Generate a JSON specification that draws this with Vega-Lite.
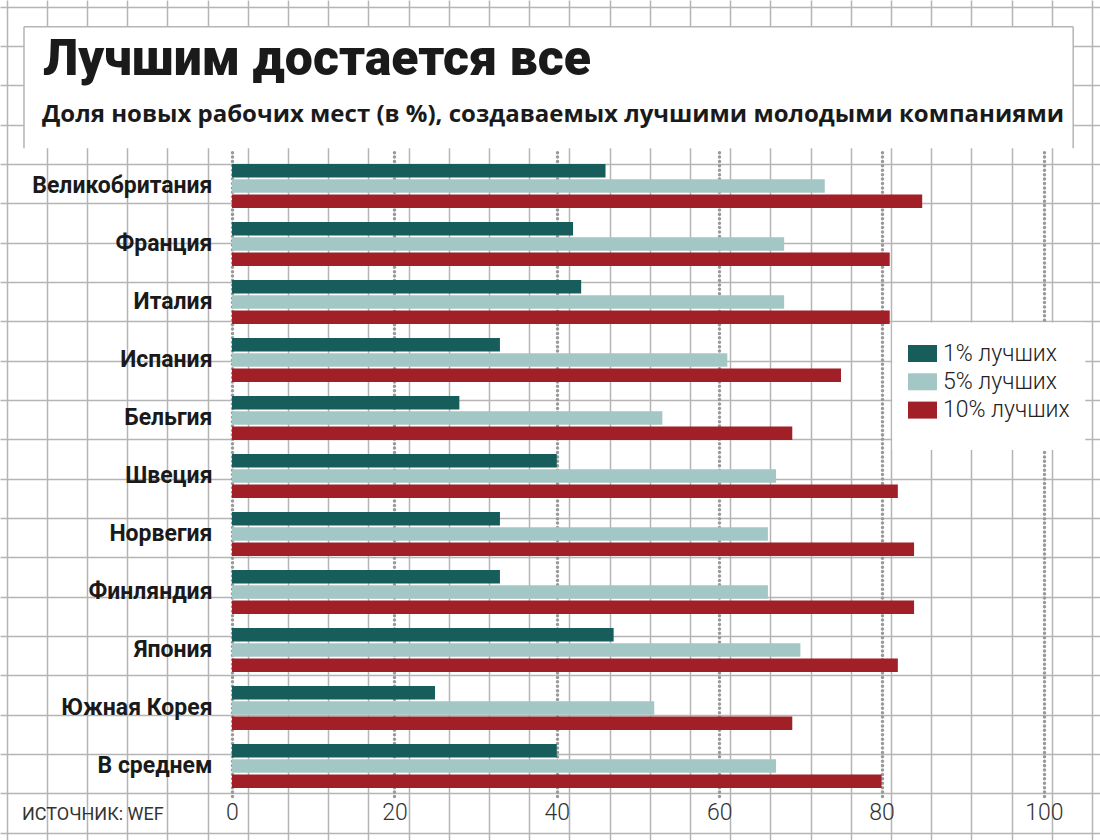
{
  "$schema": "https://vega.github.io/schema/vega-lite/v6.json",
  "width": 1100,
  "height": 840,
  "autosize": {"type": "none"},
  "padding": 0,
  "background": "white",
  "config": {"view": {"stroke": null}, "font": "Roboto"},
  "resolve": {
    "scale": {"x": "independent", "y": "independent"},
    "axis": {"x": "independent", "y": "independent"}
  },
  "layer": [
    {
      "data": {"values": [{}]},
      "mark": {"type": "rect", "fill": "white", "opacity": 0},
      "encoding": {
        "x": {
          "datum": 1, "type": "quantitative",
          "scale": {"domain": [-0.1667, 27.197], "nice": false, "zero": false},
          "axis": {"orient": "top", "values": [0,1,2,3,4,5,6,7,8,9,10,11,12,13,14,15,16,17,18,19,20,21,22,23,24,25,26,27],
            "grid": true, "gridColor": "#b5b5b5", "gridWidth": 1.5, "labels": false, "ticks": false, "domain": false, "title": null}
        },
        "x2": {"datum": 2},
        "y": {
          "datum": 1, "type": "quantitative",
          "scale": {"domain": [-0.1704, 21.187], "reverse": true, "nice": false, "zero": false},
          "axis": {"orient": "right", "values": [0,1,2,3,4,5,6,7,8,9,10,11,12,13,14,15,16,17,18,19,20,21],
            "grid": true, "gridColor": "#b5b5b5", "gridWidth": 1.5, "labels": false, "ticks": false, "domain": false, "title": null}
        },
        "y2": {"datum": 2}
      }
    },
    {
      "data": {"values": [{}]},
      "layer": [
        {
          "mark": {"type": "rect", "fill": "white"},
          "encoding": {
            "x": {"datum": 0.43, "type": "quantitative", "scale": {"domain": [-0.1667, 27.197], "nice": false, "zero": false}, "axis": null},
            "x2": {"datum": 26.53},
            "y": {"datum": 0.509, "type": "quantitative", "scale": {"domain": [-0.1704, 21.187], "reverse": true, "nice": false, "zero": false}, "axis": null},
            "y2": {"datum": 3.6}
          }
        },
        {
          "mark": {"type": "rect", "fill": "white"},
          "encoding": {
            "x": {"datum": 22.03, "type": "quantitative", "scale": {"domain": [-0.1667, 27.197], "nice": false, "zero": false}, "axis": null},
            "x2": {"datum": 26.83},
            "y": {"datum": 8.03, "type": "quantitative", "scale": {"domain": [-0.1704, 21.187], "reverse": true, "nice": false, "zero": false}, "axis": null},
            "y2": {"datum": 11.27}
          }
        },
        {
          "mark": {"type": "rule", "color": "#b5b5b5", "strokeWidth": 1.5},
          "encoding": {
            "x": {"datum": 0.43, "type": "quantitative", "scale": {"domain": [-0.1667, 27.197], "nice": false, "zero": false}, "axis": null},
            "y": {"datum": 0.509, "type": "quantitative", "scale": {"domain": [-0.1704, 21.187], "reverse": true, "nice": false, "zero": false}, "axis": null},
            "y2": {"datum": 3.6}
          }
        },
        {
          "mark": {"type": "rule", "color": "#b5b5b5", "strokeWidth": 1.5},
          "encoding": {
            "x": {"datum": 26.53, "type": "quantitative", "scale": {"domain": [-0.1667, 27.197], "nice": false, "zero": false}, "axis": null},
            "y": {"datum": 0.509, "type": "quantitative", "scale": {"domain": [-0.1704, 21.187], "reverse": true, "nice": false, "zero": false}, "axis": null},
            "y2": {"datum": 3.6}
          }
        },
        {
          "mark": {"type": "rule", "color": "#b5b5b5", "strokeWidth": 1.5},
          "encoding": {
            "x": {"datum": 0.43, "type": "quantitative", "scale": {"domain": [-0.1667, 27.197], "nice": false, "zero": false}, "axis": null},
            "x2": {"datum": 26.53},
            "y": {"datum": 0.509, "type": "quantitative", "scale": {"domain": [-0.1704, 21.187], "reverse": true, "nice": false, "zero": false}, "axis": null}
          }
        },
        {
          "mark": {"type": "text", "align": "left", "baseline": "alphabetic", "font": "Roboto", "fontWeight": 900, "fontSize": 50, "color": "#1a1a1a"},
          "encoding": {
            "x": {"datum": 0.9, "type": "quantitative", "scale": {"domain": [-0.1667, 27.197], "nice": false, "zero": false}, "axis": null},
            "y": {"datum": 1.737, "type": "quantitative", "scale": {"domain": [-0.1704, 21.187], "reverse": true, "nice": false, "zero": false}, "axis": null},
            "text": {"value": "Лучшим достается все"}
          }
        },
        {
          "mark": {"type": "text", "align": "left", "baseline": "alphabetic", "font": "Open Sans", "fontWeight": "bold", "fontSize": 24, "color": "#1a1a1a"},
          "encoding": {
            "x": {"datum": 0.878, "type": "quantitative", "scale": {"domain": [-0.1667, 27.197], "nice": false, "zero": false}, "axis": null},
            "y": {"datum": 2.924, "type": "quantitative", "scale": {"domain": [-0.1704, 21.187], "reverse": true, "nice": false, "zero": false}, "axis": null},
            "text": {"value": "Доля новых рабочих мест (в %), создаваемых лучшими молодыми компаниями"}
          }
        },
        {
          "mark": {"type": "text", "align": "left", "baseline": "alphabetic", "font": "Roboto", "fontSize": 18, "color": "#333333"},
          "encoding": {
            "x": {"datum": 0.381, "type": "quantitative", "scale": {"domain": [-0.1667, 27.197], "nice": false, "zero": false}, "axis": null},
            "y": {"datum": 20.68, "type": "quantitative", "scale": {"domain": [-0.1704, 21.187], "reverse": true, "nice": false, "zero": false}, "axis": null},
            "text": {"value": "ИСТОЧНИК: WEF"}
          }
        }
      ]
    },
    {
      "data": {
        "values": [
          {"country": "Великобритания", "series": "1% лучших", "value": 46},
          {"country": "Великобритания", "series": "5% лучших", "value": 73},
          {"country": "Великобритания", "series": "10% лучших", "value": 85},
          {"country": "Франция", "series": "1% лучших", "value": 42},
          {"country": "Франция", "series": "5% лучших", "value": 68},
          {"country": "Франция", "series": "10% лучших", "value": 81},
          {"country": "Италия", "series": "1% лучших", "value": 43},
          {"country": "Италия", "series": "5% лучших", "value": 68},
          {"country": "Италия", "series": "10% лучших", "value": 81},
          {"country": "Испания", "series": "1% лучших", "value": 33},
          {"country": "Испания", "series": "5% лучших", "value": 61},
          {"country": "Испания", "series": "10% лучших", "value": 75},
          {"country": "Бельгия", "series": "1% лучших", "value": 28},
          {"country": "Бельгия", "series": "5% лучших", "value": 53},
          {"country": "Бельгия", "series": "10% лучших", "value": 69},
          {"country": "Швеция", "series": "1% лучших", "value": 40},
          {"country": "Швеция", "series": "5% лучших", "value": 67},
          {"country": "Швеция", "series": "10% лучших", "value": 82},
          {"country": "Норвегия", "series": "1% лучших", "value": 33},
          {"country": "Норвегия", "series": "5% лучших", "value": 66},
          {"country": "Норвегия", "series": "10% лучших", "value": 84},
          {"country": "Финляндия", "series": "1% лучших", "value": 33},
          {"country": "Финляндия", "series": "5% лучших", "value": 66},
          {"country": "Финляндия", "series": "10% лучших", "value": 84},
          {"country": "Япония", "series": "1% лучших", "value": 47},
          {"country": "Япония", "series": "5% лучших", "value": 70},
          {"country": "Япония", "series": "10% лучших", "value": 82},
          {"country": "Южная Корея", "series": "1% лучших", "value": 25},
          {"country": "Южная Корея", "series": "5% лучших", "value": 52},
          {"country": "Южная Корея", "series": "10% лучших", "value": 69},
          {"country": "В среднем", "series": "1% лучших", "value": 40},
          {"country": "В среднем", "series": "5% лучших", "value": 67},
          {"country": "В среднем", "series": "10% лучших", "value": 80}
        ]
      },
      "mark": {"type": "bar"},
      "encoding": {
        "x": {
          "field": "value", "type": "quantitative",
          "scale": {"domain": [-28.571, 106.897], "nice": false, "zero": false},
          "axis": {
            "orient": "bottom", "offset": -44, "values": [0, 20, 40, 60, 80, 100],
            "domain": false, "grid": false, "title": null,
            "ticks": true, "tickSize": -646, "tickColor": "#9a9a9a", "tickWidth": 3.5,
            "tickCap": "round", "tickDash": [0.01, 4.4],
            "labelFont": "Roboto", "labelFontWeight": 300, "labelFontSize": 23,
            "labelColor": "#333333", "labelBaseline": "top", "labelPadding": 651
          }
        },
        "x2": {"datum": 0},
        "y": {
          "field": "country", "type": "nominal",
          "sort": ["Великобритания", "Франция", "Италия", "Испания", "Бельгия", "Швеция", "Норвегия", "Финляндия", "Япония", "Южная Корея", "В среднем"],
          "scale": {"range": [164, 788], "paddingInner": 0.24, "paddingOuter": 0},
          "axis": {
            "orient": "left", "offset": -232, "title": null,
            "domain": false, "ticks": false, "grid": false,
            "labelFont": "Roboto", "labelFontWeight": "bold", "labelFontSize": 23,
            "labelColor": "#1a1a1a", "labelPadding": 20, "labelLimit": 0
          }
        },
        "yOffset": {
          "field": "series", "type": "nominal",
          "sort": ["1% лучших", "5% лучших", "10% лучших"],
          "scale": {"paddingInner": 0.12, "paddingOuter": 0}
        },
        "color": {
          "field": "series", "type": "nominal",
          "scale": {"domain": ["1% лучших", "5% лучших", "10% лучших"], "range": ["#175d5b", "#a3c7c5", "#a11f27"]},
          "legend": {
            "orient": "none", "legendX": 908, "legendY": 339, "title": null,
            "padding": 0, "zindex": 1,
            "symbolType": "M-1,-0.586H1V0.586H-1Z", "symbolSize": 841, "symbolStrokeWidth": 0,
            "labelFont": "Roboto", "labelFontWeight": 300, "labelFontSize": 23, "labelColor": "#222222",
            "labelOffset": 6, "rowPadding": 1.3
          }
        }
      }
    }
  ]
}
